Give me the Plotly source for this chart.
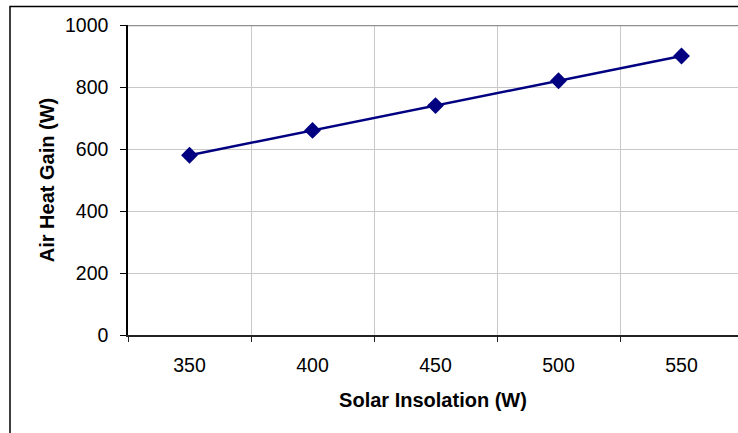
import plotly.graph_objects as go

categories = ["350", "400", "450", "500", "550"]
heat_gain = [580, 660, 740, 820, 900]
y_ticks = [0, 200, 400, 600, 800, 1000]

W, H = 738, 433
L, T, B = 128, 24.5, 98
plot_w = W - L
plot_h = H - T - B
cat_w = 123.0

fig = go.Figure()
fig.add_trace(go.Scatter(
    x=categories, y=heat_gain, mode="lines+markers",
    line=dict(color="#000080", width=2.5),
    marker=dict(symbol="diamond", size=13, color="#000080"),
    showlegend=False, cliponaxis=False,
))

tick_font = dict(family="Liberation Sans, Arial, sans-serif", size=19.5, color="#000000")
title_font = dict(family="Liberation Sans, Arial, sans-serif", size=20, color="#000000")

fig.update_layout(
    width=W, height=H,
    margin=dict(l=L, r=0, t=T, b=B, pad=0),
    paper_bgcolor="white", plot_bgcolor="white",
    font=tick_font,
    xaxis=dict(
        type="category", tickson="boundaries",
        range=[-0.5, -0.5 + plot_w / cat_w],
        showgrid=True, gridcolor="#c8c8c8", gridwidth=1,
        showline=True, linecolor="#222222", linewidth=2,
        ticks="outside", ticklen=5, tickcolor="#222222",
        tickfont=tick_font, ticklabelstandoff=12,
        title=dict(text="<b>Solar Insolation (W)</b>", font=title_font, standoff=18),
        zeroline=False,
    ),
    yaxis=dict(
        range=[0, 1000], tickvals=y_ticks,
        showgrid=True, gridcolor="#c8c8c8", gridwidth=1,
        showline=True, linecolor="#000000", linewidth=1.5,
        ticks="outside", ticklen=6, tickcolor="#000000",
        tickfont=tick_font, ticklabelstandoff=8,
        title=dict(text="<b>Air Heat Gain (W)</b>", font=title_font, standoff=5),
        zeroline=False,
    ),
)

# thicker gray top gridline at 1000
fig.add_shape(type="line", xref="paper", yref="y", x0=0, x1=1, y0=1000, y1=1000,
              line=dict(color="#909090", width=2.5))

# outer chart border (clipped by window)
fig.add_shape(type="rect", xref="paper", yref="paper",
              x0=(10 - L) / plot_w, x1=1.2,
              y0=-0.5, y1=(H - B - 6) / plot_h,
              line=dict(color="#000000", width=1.5), layer="below")

fig.write_html("out.html")
